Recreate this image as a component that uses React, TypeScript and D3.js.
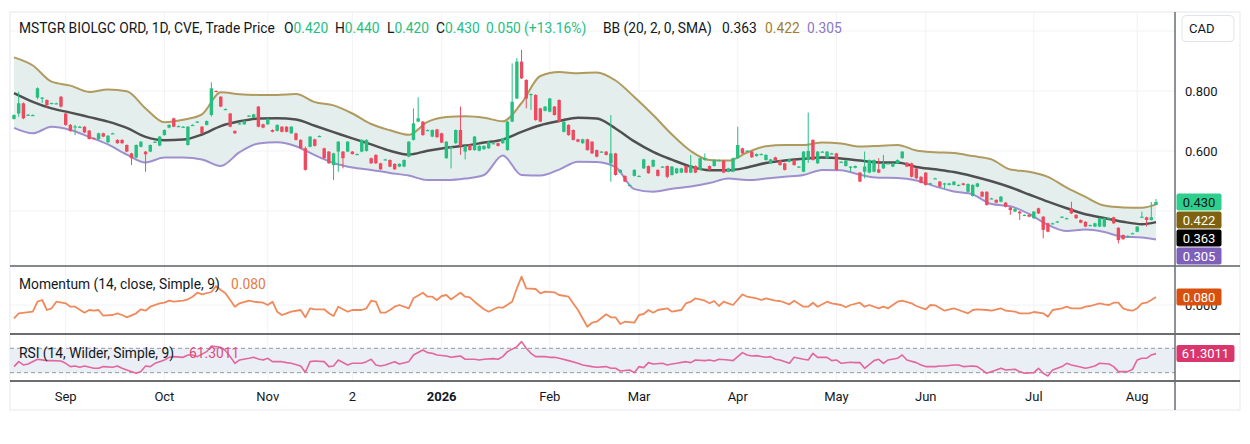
import { scaleLinear, line, area, curveMonotoneX } from "d3";

// ---- candles (daily OHLC) ----
const opens = [
  0.707, 0.725, 0.759, 0.72, 0.72, 0.778, 0.777, 0.77, 0.759, 0.759,
  0.781, 0.725, 0.687, 0.681, 0.681, 0.681, 0.668, 0.643, 0.639, 0.659,
  0.629, 0.658, 0.637, 0.637, 0.62, 0.592, 0.578, 0.614, 0.598, 0.598,
  0.63, 0.618, 0.653, 0.678, 0.709, 0.683, 0.681, 0.62, 0.687, 0.698,
  0.681, 0.687, 0.72, 0.8, 0.781, 0.74, 0.725, 0.667, 0.692, 0.689,
  0.718, 0.711, 0.748, 0.689, 0.689, 0.67, 0.667, 0.681, 0.681, 0.659,
  0.659, 0.637, 0.609, 0.614, 0.639, 0.65, 0.609, 0.598, 0.553, 0.598,
  0.598, 0.598, 0.598, 0.59, 0.598, 0.6, 0.576, 0.587, 0.559, 0.572,
  0.57, 0.557, 0.548, 0.548, 0.581, 0.637, 0.698, 0.698, 0.67, 0.648,
  0.672, 0.659, 0.576, 0.614, 0.626, 0.67, 0.598, 0.62, 0.603, 0.601,
  0.606, 0.609, 0.626, 0.626, 0.626, 0.603, 0.698, 0.775, 0.898, 0.837,
  0.79, 0.787, 0.742, 0.734, 0.731, 0.748, 0.77, 0.664, 0.687, 0.67,
  0.639, 0.626, 0.639, 0.631, 0.603, 0.598, 0.598, 0.559, 0.592, 0.528,
  0.517, 0.487, 0.517, 0.517, 0.542, 0.55, 0.548, 0.537, 0.548, 0.55,
  0.52, 0.526, 0.528, 0.55, 0.528, 0.55, 0.537, 0.57, 0.55, 0.55,
  0.57, 0.568, 0.531, 0.531, 0.576, 0.609, 0.601, 0.598, 0.583, 0.59,
  0.57, 0.559, 0.579, 0.568, 0.559, 0.564, 0.57, 0.548, 0.531, 0.57,
  0.637, 0.559, 0.598, 0.576, 0.592, 0.592, 0.564, 0.55, 0.548, 0.544,
  0.528, 0.531, 0.528, 0.531, 0.539, 0.542, 0.559, 0.548, 0.559, 0.576,
  0.561, 0.559, 0.542, 0.514, 0.528, 0.492, 0.509, 0.498, 0.492, 0.487,
  0.487, 0.487, 0.492, 0.464, 0.45, 0.481, 0.464, 0.464, 0.442, 0.437,
  0.431, 0.428, 0.412, 0.398, 0.398, 0.387, 0.387, 0.376, 0.409, 0.381,
  0.359, 0.359, 0.365, 0.381, 0.376, 0.409, 0.387, 0.37, 0.364, 0.353,
  0.348, 0.348, 0.348, 0.376, 0.379, 0.344, 0.32, 0.314, 0.326, 0.331,
  0.381, 0.379, 0.37, 0.42,
];
const highs = [
  0.722, 0.798, 0.762, 0.723, 0.722, 0.812, 0.78, 0.772, 0.761, 0.761,
  0.783, 0.728, 0.69, 0.687, 0.684, 0.683, 0.67, 0.645, 0.661, 0.661,
  0.653, 0.661, 0.639, 0.639, 0.622, 0.594, 0.622, 0.633, 0.6, 0.622,
  0.633, 0.65, 0.672, 0.689, 0.711, 0.685, 0.683, 0.683, 0.689, 0.7,
  0.683, 0.702, 0.829, 0.802, 0.783, 0.742, 0.727, 0.669, 0.694, 0.702,
  0.72, 0.724, 0.75, 0.691, 0.709, 0.672, 0.689, 0.683, 0.683, 0.683,
  0.661, 0.639, 0.615, 0.65, 0.641, 0.652, 0.611, 0.6, 0.594, 0.633,
  0.6, 0.633, 0.6, 0.592, 0.639, 0.639, 0.578, 0.589, 0.561, 0.574,
  0.572, 0.559, 0.559, 0.572, 0.633, 0.742, 0.779, 0.7, 0.672, 0.672,
  0.674, 0.661, 0.633, 0.616, 0.672, 0.748, 0.619, 0.622, 0.65, 0.619,
  0.619, 0.633, 0.628, 0.628, 0.644, 0.7, 0.892, 0.91, 0.937, 0.839,
  0.792, 0.789, 0.744, 0.75, 0.777, 0.75, 0.772, 0.7, 0.689, 0.672,
  0.641, 0.641, 0.641, 0.633, 0.605, 0.6, 0.6, 0.72, 0.594, 0.539,
  0.519, 0.489, 0.539, 0.519, 0.574, 0.552, 0.572, 0.539, 0.55, 0.552,
  0.55, 0.544, 0.544, 0.552, 0.587, 0.552, 0.578, 0.592, 0.552, 0.572,
  0.572, 0.57, 0.544, 0.578, 0.681, 0.611, 0.603, 0.6, 0.592, 0.592,
  0.589, 0.574, 0.581, 0.57, 0.561, 0.574, 0.572, 0.55, 0.6, 0.728,
  0.639, 0.6, 0.6, 0.6, 0.594, 0.594, 0.566, 0.57, 0.55, 0.552,
  0.53, 0.598, 0.572, 0.572, 0.576, 0.587, 0.561, 0.561, 0.572, 0.6,
  0.563, 0.561, 0.544, 0.516, 0.53, 0.494, 0.511, 0.5, 0.494, 0.494,
  0.5, 0.489, 0.494, 0.492, 0.489, 0.494, 0.466, 0.466, 0.444, 0.439,
  0.45, 0.43, 0.414, 0.409, 0.4, 0.389, 0.389, 0.4, 0.411, 0.383,
  0.361, 0.361, 0.367, 0.383, 0.378, 0.431, 0.389, 0.372, 0.366, 0.355,
  0.361, 0.378, 0.378, 0.378, 0.381, 0.346, 0.322, 0.319, 0.328, 0.35,
  0.398, 0.381, 0.43, 0.44,
];
const lows = [
  0.705, 0.714, 0.706, 0.717, 0.718, 0.772, 0.76, 0.745, 0.757, 0.757,
  0.745, 0.684, 0.664, 0.653, 0.678, 0.66, 0.638, 0.64, 0.637, 0.646,
  0.627, 0.657, 0.624, 0.624, 0.596, 0.553, 0.576, 0.612, 0.531, 0.596,
  0.628, 0.616, 0.651, 0.676, 0.679, 0.681, 0.679, 0.618, 0.685, 0.696,
  0.657, 0.685, 0.715, 0.798, 0.746, 0.738, 0.679, 0.657, 0.69, 0.687,
  0.716, 0.709, 0.679, 0.676, 0.687, 0.662, 0.665, 0.662, 0.662, 0.657,
  0.635, 0.607, 0.535, 0.612, 0.615, 0.648, 0.574, 0.557, 0.503, 0.531,
  0.542, 0.596, 0.588, 0.588, 0.596, 0.598, 0.557, 0.557, 0.537, 0.57,
  0.546, 0.537, 0.546, 0.546, 0.579, 0.635, 0.696, 0.651, 0.668, 0.646,
  0.644, 0.626, 0.574, 0.542, 0.624, 0.587, 0.572, 0.601, 0.601, 0.599,
  0.604, 0.607, 0.624, 0.615, 0.624, 0.601, 0.696, 0.773, 0.84, 0.742,
  0.737, 0.701, 0.696, 0.732, 0.729, 0.718, 0.696, 0.662, 0.651, 0.635,
  0.629, 0.624, 0.601, 0.59, 0.579, 0.596, 0.585, 0.498, 0.518, 0.526,
  0.496, 0.485, 0.515, 0.515, 0.54, 0.524, 0.546, 0.515, 0.546, 0.509,
  0.518, 0.524, 0.526, 0.526, 0.526, 0.526, 0.535, 0.568, 0.535, 0.548,
  0.568, 0.526, 0.529, 0.529, 0.574, 0.59, 0.599, 0.577, 0.581, 0.588,
  0.568, 0.557, 0.568, 0.551, 0.535, 0.562, 0.551, 0.546, 0.529, 0.56,
  0.568, 0.557, 0.596, 0.574, 0.59, 0.535, 0.562, 0.548, 0.531, 0.542,
  0.496, 0.509, 0.526, 0.529, 0.526, 0.54, 0.557, 0.546, 0.557, 0.574,
  0.546, 0.512, 0.507, 0.492, 0.485, 0.49, 0.507, 0.479, 0.475, 0.485,
  0.485, 0.485, 0.485, 0.462, 0.448, 0.479, 0.446, 0.418, 0.44, 0.426,
  0.429, 0.412, 0.387, 0.396, 0.37, 0.385, 0.379, 0.374, 0.39, 0.309,
  0.329, 0.357, 0.363, 0.379, 0.374, 0.39, 0.374, 0.359, 0.346, 0.351,
  0.346, 0.346, 0.346, 0.374, 0.357, 0.292, 0.304, 0.312, 0.324, 0.329,
  0.379, 0.348, 0.368, 0.42,
];
const closes = [
  0.72, 0.759, 0.709, 0.721, 0.72, 0.809, 0.778, 0.753, 0.76, 0.759,
  0.748, 0.687, 0.667, 0.682, 0.681, 0.662, 0.64, 0.642, 0.659, 0.648,
  0.651, 0.659, 0.626, 0.626, 0.598, 0.576, 0.62, 0.631, 0.589, 0.62,
  0.631, 0.648, 0.67, 0.687, 0.681, 0.683, 0.681, 0.681, 0.687, 0.698,
  0.659, 0.7, 0.809, 0.799, 0.748, 0.74, 0.681, 0.659, 0.692, 0.7,
  0.718, 0.722, 0.681, 0.678, 0.707, 0.664, 0.687, 0.664, 0.664, 0.681,
  0.637, 0.609, 0.537, 0.648, 0.617, 0.65, 0.576, 0.559, 0.592, 0.631,
  0.576, 0.631, 0.59, 0.59, 0.637, 0.637, 0.559, 0.559, 0.539, 0.572,
  0.548, 0.539, 0.557, 0.57, 0.631, 0.692, 0.709, 0.653, 0.67, 0.67,
  0.646, 0.628, 0.631, 0.614, 0.67, 0.617, 0.617, 0.603, 0.648, 0.617,
  0.617, 0.631, 0.626, 0.617, 0.642, 0.698, 0.764, 0.898, 0.842, 0.775,
  0.79, 0.703, 0.698, 0.748, 0.775, 0.72, 0.698, 0.698, 0.653, 0.637,
  0.631, 0.639, 0.603, 0.592, 0.581, 0.598, 0.587, 0.592, 0.52, 0.537,
  0.498, 0.487, 0.537, 0.517, 0.572, 0.526, 0.57, 0.517, 0.548, 0.514,
  0.548, 0.542, 0.542, 0.528, 0.553, 0.528, 0.576, 0.576, 0.537, 0.57,
  0.57, 0.528, 0.542, 0.576, 0.62, 0.592, 0.601, 0.579, 0.59, 0.59,
  0.587, 0.572, 0.57, 0.553, 0.537, 0.572, 0.553, 0.548, 0.598, 0.6,
  0.57, 0.598, 0.598, 0.598, 0.592, 0.537, 0.564, 0.568, 0.548, 0.55,
  0.498, 0.548, 0.57, 0.57, 0.528, 0.559, 0.559, 0.559, 0.57, 0.598,
  0.548, 0.514, 0.509, 0.494, 0.487, 0.492, 0.509, 0.481, 0.492, 0.492,
  0.498, 0.487, 0.487, 0.49, 0.487, 0.492, 0.448, 0.42, 0.442, 0.428,
  0.448, 0.414, 0.403, 0.407, 0.392, 0.387, 0.381, 0.398, 0.392, 0.337,
  0.331, 0.359, 0.365, 0.381, 0.376, 0.392, 0.376, 0.361, 0.348, 0.353,
  0.359, 0.376, 0.376, 0.376, 0.359, 0.303, 0.306, 0.317, 0.326, 0.348,
  0.381, 0.37, 0.379, 0.43,
];

// ---- Bollinger Bands (20, 2), read every 4th bar ----
const bandBars = [
  0, 4, 8, 12, 16, 20, 24, 28, 32, 36, 40, 44, 48, 52, 56, 60, 64, 68, 72, 76,
  80, 84, 88, 92, 96, 100, 104, 108, 112, 116, 120, 124, 128, 132, 136, 140,
  144, 148, 152, 156, 160, 164, 168, 172, 176, 180, 184, 188, 192, 196, 200,
  204, 208, 212, 216, 220, 224, 228, 232, 236, 240, 243,
];
const bbUpper = [
  0.912, 0.885, 0.831, 0.818, 0.797, 0.805, 0.799, 0.742, 0.696, 0.704,
  0.722, 0.796, 0.789, 0.787, 0.787, 0.79, 0.763, 0.752, 0.725, 0.69,
  0.669, 0.654, 0.697, 0.713, 0.716, 0.711, 0.699, 0.76, 0.85, 0.863,
  0.859, 0.862, 0.835, 0.78, 0.72, 0.655, 0.6, 0.57, 0.568, 0.595,
  0.616, 0.62, 0.62, 0.628, 0.625, 0.615, 0.617, 0.62, 0.602, 0.596,
  0.593, 0.583, 0.572, 0.538, 0.531, 0.514, 0.478, 0.447, 0.418, 0.412,
  0.411, 0.422,
];
const bbMiddle = [
  0.793, 0.764, 0.742, 0.728, 0.713, 0.698, 0.677, 0.647, 0.636, 0.638,
  0.655, 0.683, 0.699, 0.708, 0.709, 0.705, 0.684, 0.663, 0.642, 0.622,
  0.601, 0.588, 0.601, 0.611, 0.618, 0.628, 0.638, 0.664, 0.686, 0.7,
  0.711, 0.708, 0.675, 0.632, 0.597, 0.571, 0.548, 0.536, 0.536, 0.545,
  0.56, 0.568, 0.574, 0.578, 0.575, 0.568, 0.562, 0.562, 0.547, 0.539,
  0.53, 0.516, 0.499, 0.479, 0.455, 0.431, 0.409, 0.389, 0.377, 0.364,
  0.356, 0.363,
];
const bbLower = [
  0.677, 0.659, 0.681, 0.67, 0.647, 0.622, 0.588, 0.562, 0.578, 0.578,
  0.572, 0.55, 0.596, 0.625, 0.629, 0.616, 0.586, 0.56, 0.545, 0.537,
  0.527, 0.518, 0.503, 0.503, 0.508, 0.52, 0.585, 0.52, 0.518, 0.538,
  0.564, 0.563, 0.546, 0.473, 0.464, 0.474, 0.482, 0.493, 0.508, 0.503,
  0.508, 0.514, 0.52, 0.537, 0.536, 0.521, 0.511, 0.51, 0.502, 0.482,
  0.465, 0.455, 0.423, 0.416, 0.39, 0.354, 0.333, 0.338, 0.33, 0.314,
  0.312, 0.305,
];

// ---- Momentum (14) ----
const momBars = [
  0, 1, 4, 5, 6, 7, 8, 9, 11, 12, 13, 15, 16, 17, 18, 19, 21, 22, 23, 24,
  26, 27, 28, 29, 31, 32, 33, 34, 36, 37, 38, 39, 40, 42, 43, 44, 45, 46, 47, 48,
  50, 51, 53, 54, 55, 56, 57, 58, 59, 61, 62, 63, 64, 66, 67, 68, 69, 71, 72, 74,
  75, 76, 77, 78, 79, 80, 81, 82, 84, 85, 87, 88, 89, 90, 91, 92, 93, 95, 96, 97,
  98, 100, 101, 103, 104, 106, 107, 108, 109, 111, 112, 113, 115, 116, 118, 120, 122, 123, 124, 126,
  127, 128, 129, 130, 132, 133, 134, 135, 136, 137, 139, 140, 142, 143, 144, 145, 147, 148, 149, 150,
  151, 152, 153, 155, 156, 158, 159, 160, 162, 163, 165, 166, 168, 169, 170, 171, 173, 174, 176, 177,
  178, 180, 181, 182, 184, 185, 186, 188, 189, 191, 192, 194, 195, 196, 198, 200, 201, 203, 204, 205,
  207, 208, 210, 211, 213, 214, 216, 217, 219, 220, 221, 223, 224, 225, 227, 228, 229, 231, 232, 233,
  234, 235, 236, 237, 238, 239, 240, 241, 242, 243,
];
const momValues = [
  -0.133, -0.083, -0.067, 0.033, 0.05, -0.05, -0.033, 0.033, 0.017, -0.017, -0.017, -0.077, -0.05, -0.057, -0.05, -0.107, -0.1, -0.083, -0.1, -0.123,
  -0.083, -0.043, -0.057, -0.017, 0.017, 0.023, 0.043, 0.033, 0.043, 0.057, 0.083, 0.123, 0.107, 0.13, 0.19, 0.15, 0.117, 0.05, -0.017, 0.017,
  0.043, 0.033, 0.023, 0.0, 0.033, -0.067, -0.1, -0.083, -0.067, -0.05, -0.123, -0.033, -0.043, -0.043, -0.083, -0.11, -0.017, -0.067, -0.05, -0.05,
  -0.033, 0.043, 0.033, -0.077, -0.077, -0.05, -0.017, 0.0, -0.033, 0.067, 0.123, 0.083, 0.083, 0.05, 0.09, 0.1, 0.057, 0.123, 0.083, 0.077,
  0.033, -0.043, -0.067, -0.023, -0.027, 0.033, 0.167, 0.283, 0.167, 0.16, 0.117, 0.133, 0.127, 0.1, 0.083, -0.05, -0.217, -0.177, -0.167, -0.093,
  -0.123, -0.123, -0.19, -0.167, -0.177, -0.1, -0.09, -0.05, -0.077, -0.05, -0.033, -0.067, -0.05, 0.017, 0.033, 0.067, 0.043, 0.017, 0.04, -0.01,
  0.033, 0.017, 0.0, 0.107, 0.083, 0.067, 0.05, 0.067, 0.043, 0.04, 0.007, 0.043, -0.017, -0.017, 0.023, -0.017, 0.033, 0.017, 0.0, -0.023,
  0.0, 0.023, -0.017, 0.0, -0.033, -0.017, -0.033, 0.033, 0.043, 0.017, -0.01, -0.043, 0.0, -0.003, -0.057, -0.033, -0.05, -0.083, -0.05, -0.043,
  -0.05, -0.057, -0.033, -0.057, -0.067, -0.083, -0.083, -0.07, -0.083, -0.117, -0.05, -0.033, -0.017, -0.033, -0.033, -0.017, -0.01, 0.017, 0.007, 0.0,
  0.023, 0.023, -0.033, -0.05, -0.057, -0.033, 0.017, 0.023, 0.05, 0.08,
];

// ---- RSI (14) ----
const rsiBars = [
  0, 1, 2, 3, 5, 7, 8, 10, 11, 12, 13, 14, 15, 17, 18, 19, 21, 22, 23, 24,
  26, 27, 28, 29, 30, 31, 32, 33, 34, 36, 37, 38, 39, 41, 42, 44, 45, 46, 47, 48,
  50, 51, 52, 53, 54, 55, 57, 58, 59, 61, 62, 63, 64, 66, 67, 68, 69, 71, 72, 74,
  75, 76, 77, 78, 79, 81, 82, 84, 85, 87, 88, 89, 90, 92, 93, 94, 95, 96, 98, 99,
  100, 102, 103, 104, 105, 107, 108, 109, 110, 111, 113, 114, 115, 116, 118, 120, 121, 123, 124, 126,
  127, 128, 129, 131, 132, 133, 134, 135, 136, 138, 139, 140, 141, 143, 144, 145, 147, 148, 149, 150,
  152, 153, 155, 156, 157, 158, 160, 161, 162, 163, 165, 166, 168, 169, 170, 171, 173, 174, 175, 176,
  178, 179, 180, 181, 183, 184, 185, 186, 188, 189, 190, 192, 193, 194, 196, 197, 198, 200, 201, 202,
  204, 205, 206, 207, 209, 210, 211, 213, 214, 215, 217, 218, 219, 220, 221, 223, 224, 225, 226, 228,
  229, 230, 231, 233, 234, 235, 237, 238, 239, 240, 241, 242, 243,
];
const rsiValues = [
  40.0, 48.1, 42.7, 44.3, 52.0, 49.8, 49.8, 49.2, 45.4, 40.0, 41.0, 38.9, 41.0, 37.2, 37.2, 40.0, 38.9, 41.0, 37.2, 34.5,
  29.0, 31.8, 41.0, 40.0, 45.4, 48.1, 50.9, 55.2, 56.3, 55.2, 59.1, 59.1, 56.3, 64.5, 73.8, 71.6, 66.2, 56.3, 45.4, 50.9,
  53.6, 55.2, 52.5, 50.9, 53.6, 48.1, 48.1, 46.5, 45.4, 41.0, 30.7, 48.1, 49.2, 48.1, 40.0, 41.0, 50.9, 42.7, 45.4, 45.4,
  48.1, 52.0, 42.7, 41.0, 42.7, 48.1, 44.3, 48.1, 59.1, 67.3, 62.9, 61.8, 59.1, 57.4, 55.2, 56.3, 57.4, 52.0, 52.0, 50.9,
  52.0, 53.1, 52.0, 56.3, 64.5, 72.7, 80.9, 70.0, 61.8, 56.3, 56.3, 55.2, 55.2, 53.6, 49.8, 45.4, 42.7, 40.0, 38.9, 40.0,
  37.2, 37.2, 32.9, 34.5, 30.1, 40.0, 38.3, 46.5, 44.3, 45.4, 42.7, 44.3, 45.4, 48.1, 46.5, 50.9, 49.8, 50.9, 49.2, 52.0,
  50.9, 49.8, 62.9, 59.1, 57.4, 58.0, 55.2, 56.3, 52.0, 50.9, 45.4, 55.2, 52.0, 50.9, 61.8, 55.2, 55.2, 49.8, 50.9, 45.4,
  47.1, 46.5, 46.5, 37.2, 49.8, 52.0, 45.4, 50.9, 53.6, 59.1, 50.9, 46.5, 42.7, 40.0, 40.0, 41.0, 41.0, 42.7, 42.7, 40.0,
  41.0, 40.0, 34.5, 29.0, 34.5, 37.2, 34.5, 35.6, 31.8, 29.0, 30.1, 37.2, 29.0, 24.7, 34.5, 40.0, 45.4, 42.7, 41.0, 37.2,
  38.9, 41.0, 45.4, 44.3, 40.0, 31.8, 31.8, 35.6, 50.9, 53.6, 53.6, 59.1, 61.3011,
];

// ---- axis ----
const timeLabels = ["Sep", "Oct", "Nov", "2", "2026", "Feb", "Mar", "Apr", "May", "Jun", "Jul", "Aug"];
const timeLabelBars = [11, 32, 54, 72, 91, 114, 133, 154, 175, 194, 217, 239];
const priceGrid = [1.0, 0.8, 0.6, 0.4];
const priceLabels = [0.8, 0.6];

const UP = "#26be81";
const DOWN = "#ee4a5f";
const FONT = "Roboto, 'Noto Sans', sans-serif";
const TXT = "#131722";

const LEFT = 10, AXIS_X = 1175, FRAME_R = 1240, TOP = 12;
const MAIN_B = 266, MOM_B = 334, RSI_B = 381, BOTTOM = 410;

export default function App() {
  const n = closes.length;
  const x = scaleLinear().domain([0, n - 1]).range([14, 1156]);
  const y = scaleLinear().domain([0.6, 0.8]).range([151, 91]);
  const yMom = scaleLinear().domain([0, 0.08]).range([305, 297]);
  const yRsi = scaleLinear().domain([30, 70]).range([372.7, 348.3]);

  const bands = bandBars.map((b, i) => ({ b, u: bbUpper[i], m: bbMiddle[i], l: bbLower[i] }));
  const bandArea = area<(typeof bands)[number]>()
    .x((d) => x(d.b)).y0((d) => y(d.l)).y1((d) => y(d.u)).curve(curveMonotoneX);
  const bandLine = (key: "u" | "m" | "l") =>
    line<(typeof bands)[number]>().x((d) => x(d.b)).y((d) => y(d[key])).curve(curveMonotoneX)(bands) ?? "";

  const momPath = line<number>().x((b) => x(b)).y((_, i) => yMom(momValues[i]))(momBars) ?? "";
  const rsiPath = line<number>().x((b) => x(b)).y((_, i) => yRsi(rsiValues[i]))(rsiBars) ?? "";

  const momLast = momValues[momValues.length - 1];
  const rsiLast = rsiValues[rsiValues.length - 1];

  // last-value tags, pushed apart like the real price scale does
  const priceTags = [
    { v: closes[n - 1], bg: "#2ecf8c", fg: TXT },
    { v: bbUpper[bbUpper.length - 1], bg: "#7f6210", fg: "#fff" },
    { v: bbMiddle[bbMiddle.length - 1], bg: "#000000", fg: "#fff" },
    { v: bbLower[bbLower.length - 1], bg: "#7e5fba", fg: "#fff" },
  ];
  let prev = -Infinity;
  const tagPos = priceTags.map((t) => {
    const ty = Math.max(y(t.v), prev + 18);
    prev = ty;
    return { ...t, ty };
  });

  const Tag = ({ ty, bg, fg = "#fff", text, w = 45 }: { ty: number; bg: string; fg?: string; text: string; w?: number }) => (
    <g>
      <rect x={AXIS_X + 1.5} y={ty - 8.5} width={w} height={17} rx={2} fill={bg} />
      <text x={AXIS_X + 1.5 + w / 2} y={ty} dy="0.35em" textAnchor="middle" fill={fg} fontSize={13}>
        {text}
      </text>
    </g>
  );

  return (
    <svg
      width={1250}
      height={444}
      style={{ position: "absolute", left: 0, top: 0, background: "#fff" }}
      fontFamily={FONT}
    >
      <defs>
        <clipPath id="main"><rect x={LEFT} y={TOP} width={AXIS_X - LEFT} height={MAIN_B - TOP} /></clipPath>
        <clipPath id="mom"><rect x={LEFT} y={MAIN_B} width={AXIS_X - LEFT} height={MOM_B - MAIN_B} /></clipPath>
        <clipPath id="rsi"><rect x={LEFT} y={MOM_B} width={AXIS_X - LEFT} height={RSI_B - MOM_B} /></clipPath>
      </defs>

      {/* frame */}
      <rect x={LEFT} y={TOP} width={FRAME_R - LEFT} height={BOTTOM - TOP} fill="#fff" stroke="#e6e8ee" />

      {/* grid */}
      {timeLabelBars.map((b, i) => (
        <line key={i} x1={x(b)} x2={x(b)} y1={TOP} y2={RSI_B} stroke="#f0f2f6" />
      ))}
      {priceGrid.map((v, i) => (
        <line key={i} x1={LEFT} x2={AXIS_X} y1={y(v)} y2={y(v)} stroke="#f0f2f6" />
      ))}
      <line x1={LEFT} x2={AXIS_X} y1={yMom(0)} y2={yMom(0)} stroke="#f0f2f6" />

      {/* main pane */}
      <g clipPath="url(#main)">
        <path d={bandArea(bands) ?? ""} fill="#e4efed" />
        <path d={bandLine("u")} fill="none" stroke="#b09a5e" strokeWidth={2} />
        <path d={bandLine("l")} fill="none" stroke="#9f8fcf" strokeWidth={2} />
        <path d={bandLine("m")} fill="none" stroke="#505050" strokeWidth={2.5} />
        {closes.map((c, i) => {
          const o = opens[i];
          const col = c >= o ? UP : DOWN;
          const top = y(Math.max(o, c));
          const h = Math.max(1.2, Math.abs(y(o) - y(c)));
          return (
            <g key={i}>
              <line x1={x(i)} x2={x(i)} y1={y(highs[i])} y2={y(lows[i])} stroke={col} strokeWidth={1} />
              <rect x={x(i) - 1.7} y={top} width={3.4} height={h} fill={col} />
            </g>
          );
        })}
      </g>

      {/* momentum pane */}
      <g clipPath="url(#mom)">
        <path d={momPath} fill="none" stroke="#ef8a5c" strokeWidth={1.8} strokeLinejoin="round" />
      </g>

      {/* rsi pane */}
      <g clipPath="url(#rsi)">
        <rect x={LEFT} y={yRsi(70)} width={AXIS_X - LEFT} height={yRsi(30) - yRsi(70)} fill="#e9eff5" />
        <line x1={LEFT} x2={AXIS_X} y1={yRsi(70)} y2={yRsi(70)} stroke="#9598a1" strokeDasharray="4 3" />
        <line x1={LEFT} x2={AXIS_X} y1={yRsi(30)} y2={yRsi(30)} stroke="#9598a1" strokeDasharray="4 3" />
        <path d={rsiPath} fill="none" stroke="#e3669c" strokeWidth={1.6} strokeLinejoin="round" />
      </g>

      {/* separators */}
      <line x1={LEFT} x2={FRAME_R} y1={MAIN_B} y2={MAIN_B} stroke="#5d6068" strokeWidth={1.5} />
      <line x1={LEFT} x2={FRAME_R} y1={MOM_B} y2={MOM_B} stroke="#3a3c42" strokeWidth={1.5} />
      <line x1={LEFT} x2={FRAME_R} y1={RSI_B} y2={RSI_B} stroke="#3a3c42" strokeWidth={1.5} />
      <line x1={AXIS_X} x2={AXIS_X} y1={TOP} y2={BOTTOM} stroke="#6a6d78" strokeWidth={1.5} />

      {/* legends */}
      <g fontSize={13.8} fill={TXT}>
        <text x={19} y={28} dy="0.35em">MSTGR BIOLGC ORD, 1D, CVE, Trade Price</text>
        <text x={284} y={28} dy="0.35em">O<tspan fill={UP}>0.420</tspan></text>
        <text x={335} y={28} dy="0.35em">H<tspan fill={UP}>0.440</tspan></text>
        <text x={387} y={28} dy="0.35em">L<tspan fill={UP}>0.420</tspan></text>
        <text x={436} y={28} dy="0.35em">C<tspan fill={UP}>0.430</tspan></text>
        <text x={486} y={28} dy="0.35em" fill={UP}>0.050 (+13.16%)</text>
        <text x={603} y={28} dy="0.35em">BB (20, 2, 0, SMA)</text>
        <text x={722} y={28} dy="0.35em">0.363</text>
        <text x={765} y={28} dy="0.35em" fill="#9c7f2e">0.422</text>
        <text x={807} y={28} dy="0.35em" fill="#8c76c4">0.305</text>

        <text x={19} y={284} dy="0.35em">Momentum (14, close, Simple, 9)</text>
        <text x={231} y={284} dy="0.35em" fill="#e8783f">{momLast.toFixed(3)}</text>
        <text x={19} y={352.7} dy="0.35em">RSI (14, Wilder, Simple, 9)</text>
        <text x={189} y={352.7} dy="0.35em" fill="#e04a7f">{rsiLast.toFixed(4)}</text>
      </g>

      {/* time axis */}
      <g fontSize={13} fill={TXT} textAnchor="middle">
        {timeLabels.map((t, i) => (
          <text key={t} x={x(timeLabelBars[i])} y={396} dy="0.35em" fontWeight={t === "2026" ? 700 : 400}>
            {t}
          </text>
        ))}
      </g>

      {/* price axis */}
      <g fontSize={13} fill={TXT}>
        {priceLabels.map((v) => (
          <text key={v} x={1185} y={y(v)} dy="0.35em">{v.toFixed(3)}</text>
        ))}
        <text x={1185} y={yMom(0)} dy="0.35em">{(0).toFixed(3)}</text>
      </g>
      <rect x={1182} y={15.5} width={52} height={26} rx={4} fill="#fff" stroke="#e0e3eb" />
      <text x={1189} y={28.5} dy="0.35em" fontSize={13} fill={TXT}>CAD</text>

      {tagPos.map((t, i) => (
        <Tag key={i} ty={t.ty} bg={t.bg} fg={t.fg} text={t.v.toFixed(3)} />
      ))}
      <Tag ty={yMom(momLast)} bg="#d9500e" text={momLast.toFixed(3)} />
      <Tag ty={yRsi(rsiLast)} bg="#d9366c" text={rsiLast.toFixed(4)} w={58} />
    </svg>
  );
}
